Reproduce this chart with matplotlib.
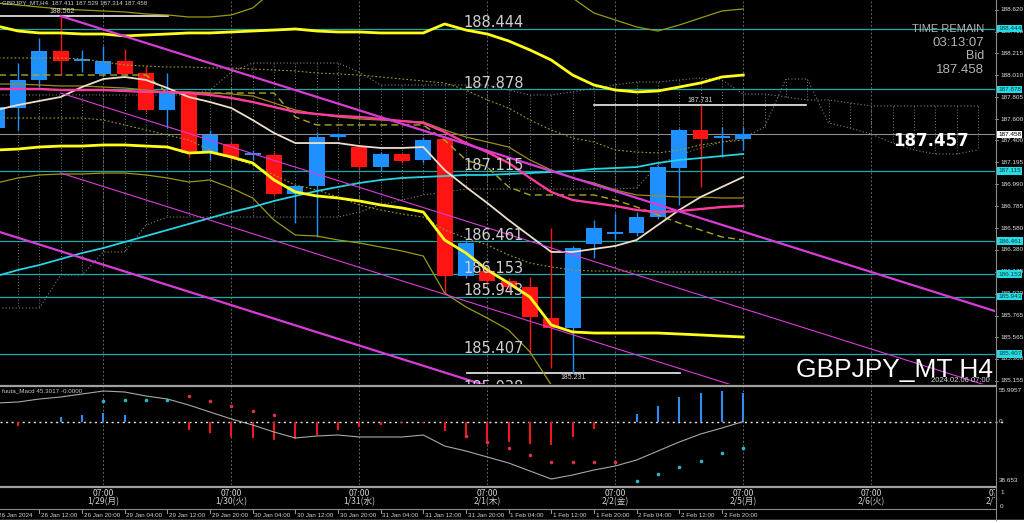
import matplotlib
matplotlib.use("Agg")
import matplotlib.pyplot as plt
import matplotlib.transforms as mtrans
from matplotlib.lines import Line2D
from matplotlib.patches import Rectangle
import numpy as np

W, H = 1024, 523
BAR_PX = 21.33      # one H4 bar in pixels
X0_PX = -3.3        # pixel position of bar 0
PLOT_R = 995        # right edge of the plot panes

# ---- GBPJPY H4 candles, bar 0 = 26 Jan 04:00 ----
opens = [187.516, 187.703, 187.965, 188.235, 188.142, 188.021, 188.142, 188.030, 187.685, 187.834,
         187.283, 187.367, 187.264, 187.264, 186.900, 186.975, 187.432, 187.339, 187.152, 187.274,
         187.218, 187.414, 186.135, 186.181, 186.088, 186.032, 185.742, 185.649, 186.433, 186.530,
         186.536, 186.685, 187.143, 187.498, 187.423, 187.411]
highs = [187.778, 188.123, 188.357, 188.562, 188.245, 188.282, 188.254, 188.095, 188.030, 187.862,
         187.498, 187.386, 187.311, 187.292, 186.984, 187.479, 187.470, 187.358, 187.292, 187.283,
         187.432, 187.442, 186.471, 186.237, 186.116, 186.125, 186.583, 186.415, 186.657, 186.723,
         186.732, 187.171, 187.516, 187.731, 187.526, 187.529]
lows = [187.451, 187.498, 187.899, 188.011, 188.039, 188.002, 188.011, 187.666, 187.516, 187.246,
        187.218, 187.218, 187.218, 186.882, 186.629, 186.499, 187.404, 187.124, 187.124, 187.190,
        187.190, 185.976, 186.116, 186.060, 186.004, 185.397, 185.276, 185.231, 186.303, 186.480,
        186.508, 186.667, 186.798, 186.966, 187.246, 187.314]
closes = [187.713, 187.965, 188.235, 188.142, 188.151, 188.142, 188.021, 187.685, 187.843, 187.283,
          187.451, 187.246, 187.274, 186.900, 186.975, 187.432, 187.460, 187.152, 187.274, 187.208,
          187.404, 186.135, 186.443, 186.088, 186.032, 185.752, 185.649, 186.396, 186.583, 186.536,
          186.685, 187.152, 187.498, 187.414, 187.432, 187.458]

# ---- overlay indicators (one value per bar) ----
yellow_hi = [188.469, 188.422, 188.404, 188.404, 188.394, 188.394, 188.376, 188.385, 188.394, 188.404,
             188.404, 188.413, 188.422, 188.431, 188.441, 188.422, 188.413, 188.413, 188.404, 188.404,
             188.404, 188.488, 188.431, 188.394, 188.329, 188.245, 188.151, 188.011, 187.918, 187.871,
             187.853, 187.862, 187.899, 187.937, 187.993, 188.011]
yellow_lo = [187.311, 187.320, 187.339, 187.348, 187.348, 187.358, 187.358, 187.348, 187.339, 187.283,
             187.292, 187.246, 187.190, 187.031, 186.919, 186.882, 186.863, 186.835, 186.798, 186.770,
             186.732, 186.471, 186.349, 186.191, 186.069, 185.938, 185.677, 185.612, 185.602, 185.602,
             185.602, 185.602, 185.593, 185.584, 185.574, 185.565]
olive_hi = [188.684, 188.665, 188.646, 188.628, 188.618, 188.609, 188.600, 188.581, 188.572, 188.553,
            188.553, 188.572, 188.637, 188.805, 188.898, 188.945, 188.973, 188.992, 188.992, 188.992,
            188.992, 189.085, 189.085, 189.038, 188.973, 188.898, 188.805, 188.730, 188.590, 188.525,
            188.460, 188.422, 188.478, 188.544, 188.609, 188.628]
olive_lo = [187.003, 187.050, 187.078, 187.087, 187.087, 187.096, 187.096, 187.078, 187.050, 187.012,
            187.031, 186.956, 186.863, 186.657, 186.517, 186.508, 186.471, 186.443, 186.405, 186.368,
            186.321, 185.976, 185.845, 185.742, 185.630, 185.425, 185.117, 184.790]
olive_mid = [187.927, 187.927, 187.918, 187.909, 187.909, 187.899, 187.890, 187.871, 187.853, 187.853,
             187.843, 187.834, 187.815, 187.750, 187.685, 187.647, 187.619, 187.601, 187.591, 187.582,
             187.573, 187.498, 187.432, 187.386, 187.339, 187.218, 187.124, 187.050, 187.003, 186.938,
             186.891, 186.882, 186.872, 186.872, 186.863, 186.863]
pink_ma = [187.881, 187.881, 187.881, 187.871, 187.871, 187.871, 187.862, 187.853, 187.853, 187.843,
           187.825, 187.797, 187.759, 187.713, 187.666, 187.647, 187.629, 187.619, 187.601, 187.582,
           187.563, 187.479, 187.376, 187.292, 187.190, 187.050, 186.919, 186.844, 186.816, 186.788,
           186.751, 186.732, 186.741, 186.760, 186.779, 186.788]
cyan_ma = [186.135, 186.191, 186.237, 186.293, 186.349, 186.396, 186.452, 186.508, 186.564, 186.620,
           186.676, 186.732, 186.779, 186.835, 186.882, 186.928, 186.966, 187.003, 187.031, 187.050,
           187.059, 187.068, 187.078, 187.078, 187.087, 187.096, 187.106, 187.115, 187.134, 187.143,
           187.152, 187.190, 187.218, 187.236, 187.255, 187.274]
wheat_ma = [187.685, 187.731, 187.769, 187.806, 187.899, 187.974, 187.993, 187.965, 187.890, 187.806,
            187.759, 187.703, 187.591, 187.470, 187.376, 187.376, 187.376, 187.348, 187.330, 187.330,
            187.339, 187.124, 186.966, 186.816, 186.657, 186.508, 186.359, 186.359, 186.387, 186.415,
            186.471, 186.611, 186.751, 186.872, 186.966, 187.059]
kijun_dash = [188.011, 188.011, 188.011, 188.011, 188.011, 188.011, 188.011, 188.011, 187.843, 187.843,
              187.843, 187.843, 187.843, 187.843, 187.619, 187.545, 187.545, 187.545, 187.545, 187.545,
              187.545, 187.404, 187.218, 187.152, 186.966, 186.891, 186.891, 186.891, 186.891, 186.844,
              186.779, 186.704, 186.629, 186.564, 186.499, 186.471]
dot_hi = [188.170, 188.170, 188.170, 188.170, 188.161, 188.133, 188.105, 188.095, 188.086, 188.086,
          188.077, 188.077, 188.067, 188.058, 188.049, 188.030, 188.021, 188.011, 187.993, 187.974,
          187.955, 187.937, 187.871, 187.778, 187.703, 187.591, 187.498, 187.423, 187.386, 187.311,
          187.292, 187.283, 187.311, 187.358, 187.386, 187.404]
dot_lo = [187.610, 187.610, 187.610, 187.610, 187.610, 187.591, 187.545, 187.498, 187.451, 187.404,
          187.311, 187.236, 187.171, 187.078, 186.984, 186.938, 186.872, 186.798, 186.751, 186.713,
          186.685, 186.564, 186.489, 186.424, 186.331, 186.256, 186.219, 186.191, 186.181, 186.181,
          186.181, 186.172, 186.172, 186.172, 186.172, 186.172]
# cloud spans, incl. 11 future bars
span_a = [187.825, 187.825, 187.825, 187.825, 187.825, 187.825, 187.825, 187.825, 187.825, 187.825,
          187.871, 188.039, 188.123, 188.123, 188.123, 188.123, 188.123, 188.039, 187.918, 187.918,
          187.918, 187.918, 187.918, 187.918, 187.871, 187.825, 187.825, 187.853, 187.890, 187.918,
          187.946, 187.946, 187.965, 187.983, 187.965, 187.834, 187.834, 187.806, 187.778, 187.778,
          187.750, 187.722, 187.722, 187.722, 187.722, 187.722, 187.722]
span_b = [185.836, 185.836, 185.836, 186.144, 186.144, 186.359, 186.359, 186.611, 186.685, 186.685,
          186.685, 186.685, 186.685, 186.685, 186.685, 186.685, 186.685, 186.732, 186.798, 186.844,
          186.891, 186.919, 186.947, 186.947, 186.947, 186.947, 186.947, 186.947, 186.947, 186.947,
          186.956, 187.171, 187.264, 187.330, 187.386, 187.423, 187.526, 187.974, 187.974, 187.563,
          187.516, 187.460, 187.376, 187.311, 187.274, 187.274, 187.311]

# trend channel (bar, price) -> (bar, price)
trend_x0 = [3, 3, 3, 0.15]
trend_p0 = [188.562, 187.843, 187.096, 186.545]
trend_x1 = [46.8, 46.8, 46.8, 46.8]
trend_p1 = [185.807, 185.088, 184.341, 183.611]
trend_lw = [1.6, 0.8, 0.8, 1.6]

levels = [188.444, 187.878, 187.115, 186.461, 186.153, 185.943, 185.407, 185.038]
bid = 187.458
# high / low markers: price, from bar, to bar
mark_price = [188.562, 187.731, 185.231]
mark_from = [0.15, 28.0, 22.05]
mark_to = [8.03, 37.95, 32.03]

axis_ticks = [188.620, 188.415, 188.215, 188.010, 187.805, 187.600, 187.400, 187.195, 186.990,
              186.785, 186.580, 186.380, 186.175, 185.970, 185.765, 185.565, 185.360, 185.155]

# ---- MACD sub window ----
macd_hist = [0, -4, 0, 4.5, 6.5, 8.5, 6.5, 0, 0, -8, -11, -15, -16, -18, -17, -13, -8, -5, -3, -1.5,
             -1, -9, -13, -20, -20, -22, -23, -15, -7, 0, 8, 16, 25, 29, 31, 29]
nan = np.nan
sig_up = [nan, nan, nan, nan, nan, 20.5, 21.5, 21.5, 21.5, nan, nan, nan, nan, nan, nan, nan, nan, nan,
          nan, nan, nan, nan, nan, nan, nan, nan, nan, nan, nan, nan, -59.5, -52.5, -45.5, -39.5, -31.5, -26.5]
sig_dn = [nan, nan, nan, nan, nan, nan, nan, nan, nan, 25.8, 20.8, 15.8, 10.8, 6.2, nan, nan, nan, nan,
          nan, nan, nan, nan, -14.5, -20.5, -26.5, -33.5, -40.5, -40.5, -40.5, -40.5, nan, nan, nan, nan, nan, nan]
macd_line = [18.5, 19.5, 22.5, 24.5, 27.5, 30.5, 29.5, 25.5, 22.5, 16.5, 9.5, 2.5, -3.5, -10.5, -16.5,
             -14.5, -13.5, -15.5, -15.5, -15.5, -13.5, -24.5, -29.5, -35.5, -41.5, -49.5, -57.5, -53.5,
             -48.5, -44.5, -38.5, -29.5, -20.5, -12.5, -6.5, 0]

day_bars = [5, 11, 17, 23, 29, 35, 41, 47]
day_labels = ["1/29(月)", "1/30(火)", "1/31(水)", "2/1(木)", "2/2(金)", "2/5(月)", "2/6(火)", "2/7(水)"]
time_bars = list(range(0, 35, 2))
time_labels = ["26 Jan 2024", "26 Jan 12:00", "26 Jan 20:00", "29 Jan 04:00", "29 Jan 12:00",
               "29 Jan 20:00", "30 Jan 04:00", "30 Jan 12:00", "30 Jan 20:00", "31 Jan 04:00",
               "31 Jan 12:00", "31 Jan 20:00", "1 Feb 04:00", "1 Feb 12:00", "1 Feb 20:00",
               "2 Feb 04:00", "2 Feb 12:00", "2 Feb 20:00"]


def fx(px):
    return px / W


def fy(py):
    return 1 - py / H


def bar_at(px):
    return (px - X0_PX) / BAR_PX


fig = plt.figure(figsize=(W / 100, H / 100), dpi=100, facecolor="black")
plt.rcParams["font.family"] = ["DejaVu Sans"]
CJK = ["Noto Sans CJK JP", "DejaVu Sans"]
SMALL = "Liberation Sans"


def pane(top, bottom):
    a = fig.add_axes([0, fy(bottom), PLOT_R / W, (bottom - top) / H])
    a.set_facecolor("black")
    a.set_xlim(bar_at(0), bar_at(PLOT_R))
    for s in a.spines.values():
        s.set_visible(False)
    a.set_xticks([])
    a.set_yticks([])
    return a


# ================= main window =================
ax = pane(0, 384)
ax.set_ylim(185.1262, 188.7116)
idx = np.arange(len(opens))

for b in day_bars:
    ax.axvline(b, color="#666666", lw=0.7, ls=(0, (2, 2)), zorder=1)

# cloud
nb = np.arange(len(span_a))
ax.plot(nb, span_a, color="#808080", lw=0.8, ls=(0, (1, 2)), zorder=1)
ax.plot(nb, span_b, color="#808080", lw=0.8, ls=(0, (1, 2)), zorder=1)
ax.vlines(nb, span_a, span_b, colors="#7a7a7a", lw=0.7, linestyles=(0, (1, 2)), zorder=1)

for lvl in levels:
    ax.axhline(lvl, color="#1fa8a8", lw=0.9, zorder=2)
ax.axhline(bid, color="#8c8c8c", lw=0.8, zorder=2)

for p, a0, a1 in zip(mark_price, mark_from, mark_to):
    ax.plot([a0, a1], [p, p], color="#f0f0f0", lw=1.2, zorder=2)

# candles
o, h, l, c = map(np.array, (opens, highs, lows, closes))
col = np.where(c >= o, "#1e90ff", "#ff1414")
ax.vlines(idx, l, h, colors=col, lw=1.0, zorder=3)
ax.bar(idx, np.maximum(np.abs(c - o), 0.018), bottom=np.minimum(o, c), width=0.74,
       color=col, linewidth=0, zorder=3)

# indicators
ax.plot(idx, dot_hi, color="#a0a020", lw=0.8, ls=(0, (1.5, 2)), zorder=4)
ax.plot(idx, dot_lo, color="#a0a020", lw=0.8, ls=(0, (1.5, 2)), zorder=4)
ax.plot(idx, kijun_dash, color="#a8a820", lw=1.0, ls=(0, (5, 3)), zorder=4)
ax.plot(idx, olive_hi, color="#999916", lw=0.9, zorder=4)
ax.plot(np.arange(len(olive_lo)), olive_lo, color="#999916", lw=0.9, zorder=4)
ax.plot(idx, olive_mid, color="#9c8a1c", lw=0.9, zorder=4)
ax.plot(idx, cyan_ma, color="#27d3e3", lw=1.3, zorder=5)
ax.plot(idx, wheat_ma, color="#eedfcc", lw=1.3, zorder=5)
ax.plot(idx, pink_ma, color="#ff3b9d", lw=1.7, zorder=5)
ax.plot(idx, yellow_hi, color="#ffff1a", lw=2.0, zorder=5)
ax.plot(idx, yellow_lo, color="#ffff1a", lw=2.0, zorder=5)
for x0, p0, x1, p1, lw in zip(trend_x0, trend_p0, trend_x1, trend_p1, trend_lw):
    ax.plot([x0, x1], [p0, p1], color="#d83cd8", lw=lw, zorder=5)

# level labels
off = mtrans.offset_copy(ax.transData, fig=fig, y=-1.2, units="points")
for lvl in levels:
    ax.text(bar_at(463), lvl, f"{lvl:.3f}", transform=off, ha="left", va="bottom",
            fontsize=10.5, color="#cfcfcf", zorder=8, clip_on=True)

off_up = mtrans.offset_copy(ax.transData, fig=fig, y=1, units="points")
ax.text(bar_at(62), mark_price[0], f"{mark_price[0]:.3f}", transform=off_up, ha="center", va="bottom",
        fontsize=5, color="#d8d8d8", family=SMALL, zorder=8)
ax.text(bar_at(700), mark_price[1], f"{mark_price[1]:.3f}", transform=off_up, ha="center", va="bottom",
        fontsize=5, color="#d8d8d8", family=SMALL, zorder=8)
ax.text(bar_at(573), mark_price[2], f"{mark_price[2]:.3f}",
        transform=mtrans.offset_copy(ax.transData, fig=fig, y=-1, units="points"),
        ha="center", va="top", fontsize=5, color="#d8d8d8", family=SMALL, zorder=8)

# right price scale
rt = mtrans.blended_transform_factory(ax.transAxes, ax.transData)
for t in axis_ticks:
    ax.plot([1.0, 1 + 3 / PLOT_R], [t, t], color="#9a9a9a", lw=0.6, transform=rt, clip_on=False)
    ax.text(1 + 5 / PLOT_R, t, f"{t:.3f}", transform=rt, fontsize=4.6, family=SMALL,
            color="#e0e0e0", va="center", ha="left", clip_on=False)
for lvl in levels[:-1]:
    ax.text(1 + 3 / PLOT_R, lvl, f"{lvl:.3f}", transform=rt, fontsize=4.6, family=SMALL,
            color="#064046", va="center", ha="left", clip_on=False, zorder=10,
            bbox=dict(boxstyle="square,pad=0.18", fc="#27dbe3", ec="none"))
ax.text(1 + 3 / PLOT_R, bid, f"{bid:.3f}", transform=rt, fontsize=4.6, family=SMALL,
        color="black", va="center", ha="left", clip_on=False, zorder=10,
        bbox=dict(boxstyle="square,pad=0.18", fc="white", ec="none"))

# texts on the chart
fig.text(fx(2), fy(2.5), "GBPJPY_MT,H4  187.411 187.529 187.314 187.458", fontsize=4.5,
         family=SMALL, color="#d0d0d0", va="center", ha="left")
for txt, yy, fs in [("TIME REMAIN", 29, 8), ("03:13:07", 43, 9.5), ("Bid", 56, 9), ("187.458", 70, 9.5)]:
    fig.text(fx(984), fy(yy), txt, fontsize=fs, family=SMALL, color="#b4b4b4", ha="right", va="center")
fig.text(fx(931), fy(141), "187.457", fontsize=12, fontweight="bold", color="white",
         ha="center", va="center")
fig.text(fx(990), fy(380), "2024.02.06 07:00", fontsize=5.5, family=SMALL, color="#d8d8d8",
         ha="right", va="center")
fig.text(fx(993), fy(377), "GBPJPY_MT H4", fontsize=19, family=SMALL, color="white",
         ha="right", va="baseline")

# ================= MACD window =================
ax2 = pane(387, 485)
ax2.set_ylim(-63.5, 34.5)
for b in day_bars:
    ax2.axvline(b, color="#666666", lw=0.7, ls=(0, (2, 2)), zorder=1)
ax2.axhline(0, color="#e6e6e6", lw=1.0, ls=(0, (1.5, 2.5)), zorder=2)
ax2.plot([1.0, 1 + 8 / PLOT_R], [0, 0], color="#e6e6e6", lw=1.0, ls=(0, (1.5, 2.5)),
         transform=mtrans.blended_transform_factory(ax2.transAxes, ax2.transData), clip_on=False)
hist = np.array(macd_hist)
hcol = np.where(hist > 0, "#2f8ff0", "#f01818")
ax2.vlines(idx, 0, hist, colors=hcol, lw=1.5, zorder=3)
ax2.plot(idx, macd_line, color="#a8a8a8", lw=0.8, zorder=3)
ax2.plot(idx, sig_up, ls="none", marker="o", ms=1.6, color="#2ab8c8", zorder=4)
ax2.plot(idx, sig_dn, ls="none", marker="o", ms=1.6, color="#e0304a", zorder=4)
fig.text(fx(2), fy(391), "fuuta_Macd 45.3017 -0.0000", fontsize=4.5, family=SMALL,
         color="#c8c8c8", va="center", ha="left")
for txt, yy in [("55.9957", 391), ("0", 421.5), ("38.653", 481)]:
    fig.text(fx(999), fy(yy), txt, fontsize=4.6, family=SMALL, color="#e0e0e0", va="center", ha="left")

# ================= date strip =================
axd = pane(488, 508)
for b, lab in zip(day_bars, day_labels):
    axd.text(b, 0.75, "07:00", ha="center", va="center", fontsize=6.2, family=CJK,
             color="#d0d0d0", clip_on=True)
    axd.text(b, 0.3, lab, ha="center", va="center", fontsize=6.2, family=CJK,
             color="#d0d0d0", clip_on=True)
fig.text(fx(1000), fy(493), "1", fontsize=4.6, family=SMALL, color="#e0e0e0", va="center")
fig.text(fx(1000), fy(506), "0", fontsize=4.6, family=SMALL, color="#e0e0e0", va="center")

# ================= time axis =================
axb = pane(509, 520)
axb.set_ylim(0, 1)
for b, lab in zip(time_bars, time_labels):
    axb.plot([b, b], [1, 0.6], color="#9a9a9a", lw=0.7)
    axb.text(b + 0.08, 0.42, lab, ha="left", va="center", fontsize=4.5, family=SMALL,
             color="#d0d0d0", clip_on=True)

# pane separators and right border
for yy, lw, cc in [(385.5, 1.6, "#a0a0a0"), (486.5, 1.6, "#a0a0a0"), (509, 0.8, "#8a8a8a")]:
    fig.add_artist(Line2D([0, fx(PLOT_R)], [fy(yy), fy(yy)], color=cc, lw=lw))
fig.add_artist(Line2D([fx(PLOT_R + 0.5), fx(PLOT_R + 0.5)], [fy(0), fy(520)], color="#8a8a8a", lw=0.8))
fig.add_artist(Rectangle((0, 0), 1, fy(520), transform=fig.transFigure, color="white"))

fig.savefig("out.png", dpi=100, facecolor="black")
